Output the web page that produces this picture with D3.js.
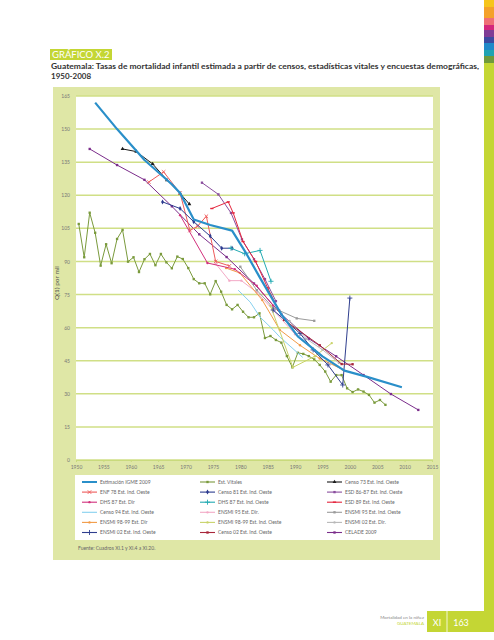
<!DOCTYPE html>
<html><head><meta charset="utf-8">
<script src="https://cdn.jsdelivr.net/npm/d3@7"></script>
<style>body{margin:0;background:#fff;}svg{display:block;font-family:Lato,"Open Sans",sans-serif;}</style>
</head><body><svg id="c" width="494" height="640"></svg>
<script>
// ---------- data ----------
const yTicks = [0,15,30,45,60,75,90,105,120,135,150,165];
const xTicks = [1950,1955,1960,1965,1970,1975,1980,1985,1990,1995,2000,2005,2010,2015];

const igme      = [[1953.5,162],[1957.5,150],[1962.5,136],[1967.5,125],[1969,121],[1971.5,109],[1974.5,106.5],[1978.5,104],[1981,94],[1983.5,83],[1987.5,66],[1990.5,56],[1995,47],[1999,40.5],[2003,37.8],[2009.5,33]];
const vitalesStart = 1950.5; // mid-year of 1950
const vitalesValues = [107.0,91.9,112.1,103.0,88.1,97.8,89.2,100.2,104.3,89.9,91.9,85.2,91.0,93.4,88.3,93.4,89.6,86.9,92.2,91.1,87.0,82.0,80.1,80.1,75.1,81.1,76.3,70.3,68.3,70.3,67.2,64.7,64.7,66.5,55.3,56.2,54.4,53.2,47.1,42.0,48.6,48.1,47.1,45.6,43.1,40.1,35.5,38.5,38.5,32.5,30.8,32.0,31.0,29.5,26.0,27.2,25.0];
const censo73   = [[1958.5,141],[1961,139.8],[1964,134.2],[1966.6,126.9],[1969,120.9],[1970.7,116]];
const enf78     = [[1963.3,126],[1966,130.6],[1969,121],[1970.8,104],[1972.2,106],[1973.8,110.5],[1975.5,90],[1978,88]];
const censo81   = [[1965.8,117],[1969,114],[1971.5,108],[1974.5,101.5],[1976.6,96],[1978.5,96]];
const esd8687   = [[1973,125.7],[1976,120.4],[1978.3,112],[1980.3,100],[1982.5,91],[1984.5,82],[1986.5,72]];
const dhs87Dir  = [[1969,111],[1974,89.3],[1979,86.5],[1983,79],[1986,70]];
const dhs87Ind  = [[1978.3,96],[1980.8,93.5],[1983.6,95],[1985.6,81]];
const esd89     = [[1974.8,114],[1977.8,117],[1978.7,112],[1980.5,99],[1982.8,90],[1985,78],[1987,68]];
const censo94   = [[1979.6,77],[1981.8,71.6],[1983.6,64.8],[1986,59],[1987.2,55.8],[1991.4,46.5]];
const ensmi95Dir= [[1975.5,89],[1978,81.3],[1980.2,81.3],[1983,76],[1986,68],[1990,57]];
const ensmi95Ind= [[1980,87.6],[1983,77],[1986,69],[1990.3,64.2],[1993.5,63.1]];
const ensmi98Dir= [[1977.4,87],[1979.9,84.8],[1984,72.5],[1987.2,59],[1990.9,52],[1994.5,46],[1998.7,41]];
const ensmi98Ind= [[1985.5,70],[1989.6,42],[1993.6,47],[1996.7,53]];
const ensmi02Dir= [[1989,63],[1992,55],[1995,50],[1998,44]];
const ensmi02Ind= [[1986,68],[1990.9,57.4],[1993.3,49.9],[1996,43.1],[1998.7,34],[2000,73.4]];
const censo02   = [[1988,63.5],[1994.5,52],[1998.5,43.5],[2000.5,43.4]];
const celade    = [[1952.5,141],[1957.5,133.7],[1962.5,127],[1967.5,115],[1972.5,102.3],[1977.5,92],[1982.5,80],[1987.5,66],[1992.5,55],[1997.5,47],[2002.5,38.5],[2007.5,29.9],[2012.5,22.7]];

const legendNames = ["Estimación IGME 2009","Est. Vitales","Censo 73 Est. Ind. Oeste",
 "ENF 78 Est. Ind. Oeste","Censo 81 Est. Ind. Oeste","ESD 86-87 Est. Ind. Oeste",
 "DHS 87 Est. Dir","DHS 87 Est. Ind. Oeste","ESD 89 Est. Ind. Oeste",
 "Censo 94 Est. Ind. Oeste","ENSMI 95 Est. Dir.","ENSMI 95 Est. Ind. Oeste",
 "ENSMI 98-99 Est. Dir","ENSMI 98-99 Est. Ind. Oeste","ENSMI 02 Est. Dir.",
 "ENSMI 02 Est. Ind. Oeste","Censo 02 Est. Ind. Oeste","CELADE 2009"];

// ---------- styles ----------
const vitales = vitalesValues.map((v,i)=>[vitalesStart+i,v]);
const seriesData = [igme,vitales,censo73,enf78,censo81,esd8687,dhs87Dir,dhs87Ind,esd89,censo94,ensmi95Dir,ensmi95Ind,ensmi98Dir,ensmi98Ind,ensmi02Dir,ensmi02Ind,censo02,celade];
const styles = [
 {c:"#2a8fc9",w:2.2,m:null},
 {c:"#7a9a3c",w:1,m:"square"},
 {c:"#1a1a1a",w:1,m:"triangle"},
 {c:"#ee5a5a",w:1,m:"times"},
 {c:"#2c3b8f",w:1,m:"diamond"},
 {c:"#8a4e9e",w:1,m:"square"},
 {c:"#d2307c",w:1,m:"circle"},
 {c:"#22aab2",w:1,m:"plus"},
 {c:"#e4253d",w:1,m:"dash"},
 {c:"#86d0ef",w:1,m:null},
 {c:"#f3a9c6",w:1,m:"circle"},
 {c:"#9b9b9b",w:1,m:"square"},
 {c:"#f29a45",w:1,m:"circle"},
 {c:"#c9d36a",w:1,m:"circle"},
 {c:"#b8b8b8",w:1,m:"circle"},
 {c:"#2f3e8e",w:1,m:"plus"},
 {c:"#a8263b",w:1,m:"square"},
 {c:"#7b2d8b",w:1,m:"square"}
];
const drawOrder = [1,17,9,10,11,12,13,14,2,3,4,5,6,7,8,15,16,0];

const svg = d3.select("#c");
const L=76,R=433,T=96,B=460;
const x = d3.scaleLinear().domain([1950,2015]).range([76,432]);
const y = d3.scaleLinear().domain([0,165]).range([B,T]);

// right colour strip
const strip = [["#f6c51b",0,7],["#f4a12a",7,18],["#ef6f76",18,25],["#d3267c",25,30],["#7f3c95",30,37],["#3c4aa0",37,43],["#2089c9",43,50],["#1fa3b3",50,56],["#6f9a3b",56,63],["#c4d634",63,612]];
strip.forEach(s=>svg.append("rect").attr("x",484).attr("y",s[1]).attr("width",10).attr("height",s[2]-s[1]).attr("fill",s[0]));

// header
svg.append("rect").attr("x",50).attr("y",49).attr("width",62).attr("height",11).attr("fill","#c4d634");
svg.append("text").attr("x",52).attr("y",58).attr("fill","#fff").attr("font-size",9.5).text("GRÁFICO X.2");
svg.append("text").attr("x",51).attr("y",69).attr("fill","#333").attr("font-size",8).attr("font-weight",700)
  .attr("textLength",428).attr("lengthAdjust","spacingAndGlyphs")
  .text("Guatemala: Tasas de mortalidad infantil estimada a partir de censos, estadísticas vitales y encuestas demográficas,");
svg.append("text").attr("x",51).attr("y",79).attr("fill","#333").attr("font-size",8).attr("font-weight",700).text("1950-2008");

// panel
svg.append("rect").attr("x",53).attr("y",87).attr("width",387).attr("height",473).attr("fill","#dfe7a6");
svg.append("rect").attr("x",L).attr("y",T).attr("width",R-L).attr("height",B-T).attr("fill","#fff");

// grid
svg.append("g").selectAll("line").data(yTicks).join("line")
 .attr("x1",L).attr("x2",R).attr("y1",d=>y(d)).attr("y2",d=>y(d))
 .attr("stroke","#d0df86").attr("stroke-width",1.5);

// axes
const yAxis = d3.axisLeft(y).tickValues(yTicks).tickSize(0).tickPadding(6);
const gy = svg.append("g").attr("transform",`translate(${L},0)`).call(yAxis);
gy.select(".domain").remove();
gy.selectAll("text").attr("font-size",5).attr("fill","#777").attr("font-family","Lato,sans-serif");
const xAxis = d3.axisBottom(x).tickValues(xTicks).tickFormat(d3.format("d")).tickSize(2).tickPadding(3);
const gx = svg.append("g").attr("transform",`translate(0,${B})`).call(xAxis);
gx.select(".domain").attr("stroke","#c9da7c");
gx.selectAll(".tick line").attr("stroke","#c9da7c");
gx.selectAll("text").attr("font-size",5).attr("fill","#777").attr("font-family","Lato,sans-serif");

svg.append("text").attr("transform","translate(59,283) rotate(-90)").attr("text-anchor","middle")
 .attr("font-size",6.5).attr("fill","#555").text("Q(1) por mil");

// markers
function marker(g,type,cx,cy,col,s){
  if(!type) return;
  const sz = s||1;
  if(type==="square") g.append("rect").attr("x",cx-1.3*sz).attr("y",cy-1.3*sz).attr("width",2.6*sz).attr("height",2.6*sz).attr("fill",col);
  else if(type==="circle") g.append("circle").attr("cx",cx).attr("cy",cy).attr("r",1.3*sz).attr("fill",col);
  else if(type==="triangle") g.append("path").attr("d",d3.symbol(d3.symbolTriangle,8*sz*sz)()).attr("transform",`translate(${cx},${cy})`).attr("fill",col);
  else if(type==="diamond") g.append("path").attr("d",d3.symbol(d3.symbolDiamond,9*sz*sz)()).attr("transform",`translate(${cx},${cy})`).attr("fill",col);
  else if(type==="plus") g.append("path").attr("d",d3.symbol(d3.symbolPlus,12*sz*sz)()).attr("transform",`translate(${cx},${cy})`).attr("fill","none").attr("stroke",col).attr("stroke-width",0.9);
  else if(type==="times") g.append("path").attr("d",d3.symbol(d3.symbolTimes,12*sz*sz)()).attr("transform",`translate(${cx},${cy})`).attr("fill","none").attr("stroke",col).attr("stroke-width",0.9);
  else if(type==="dash") g.append("line").attr("x1",cx-1.8*sz).attr("x2",cx+1.8*sz).attr("y1",cy).attr("y2",cy).attr("stroke",col).attr("stroke-width",1.4);
}

const line = d3.line().x(d=>x(d[0])).y(d=>y(d[1]));
const plot = svg.append("g");
drawOrder.forEach(i=>{
  const st = styles[i], data = seriesData[i];
  plot.append("path").attr("d",line(data)).attr("fill","none").attr("stroke",st.c).attr("stroke-width",st.w).attr("stroke-linejoin","round");
  data.forEach(d=>marker(plot,st.m,x(d[0]),y(d[1]),st.c,0.9));
});

// legend
svg.append("rect").attr("x",75).attr("y",475).attr("width",358).attr("height",65).attr("fill","#fff");
const colX=[82,200,327];
legendNames.forEach((n,i)=>{
  const col=i%3,row=Math.floor(i/3);
  const lx=colX[col], ly=482+row*10.1;
  const st=styles[i];
  svg.append("line").attr("x1",lx).attr("x2",lx+15).attr("y1",ly).attr("y2",ly).attr("stroke",st.c).attr("stroke-width",st.w===1?1.1:2);
  marker(svg,st.m,lx+7.5,ly,st.c,0.9);
  svg.append("text").attr("x",lx+18).attr("y",ly+1.8).attr("font-size",5).attr("fill","#666").text(n);
});
svg.append("text").attr("x",78).attr("y",550).attr("font-size",5).attr("fill","#666").text("Fuente: Cuadros XI.1 y XI.4 a XI.20.");

// footer
svg.append("rect").attr("x",427).attr("y",611).attr("width",67).attr("height",21).attr("fill","#c4d634");
svg.append("line").attr("x1",447).attr("x2",447).attr("y1",611).attr("y2",632).attr("stroke","#fff").attr("stroke-width",0.8);
svg.append("text").attr("x",437).attr("y",626).attr("text-anchor","middle").attr("fill","#fff").attr("font-size",9).text("XI");
svg.append("text").attr("x",461).attr("y",626).attr("text-anchor","middle").attr("fill","#fff").attr("font-size",9).text("163");
svg.append("text").attr("x",424).attr("y",619).attr("text-anchor","end").attr("fill","#888").attr("font-size",4.5).text("Mortalidad en la niñez");
svg.append("text").attr("x",424).attr("y",625).attr("text-anchor","end").attr("fill","#c4d634").attr("font-size",4.5).text("GUATEMALA");
</script></body></html>
